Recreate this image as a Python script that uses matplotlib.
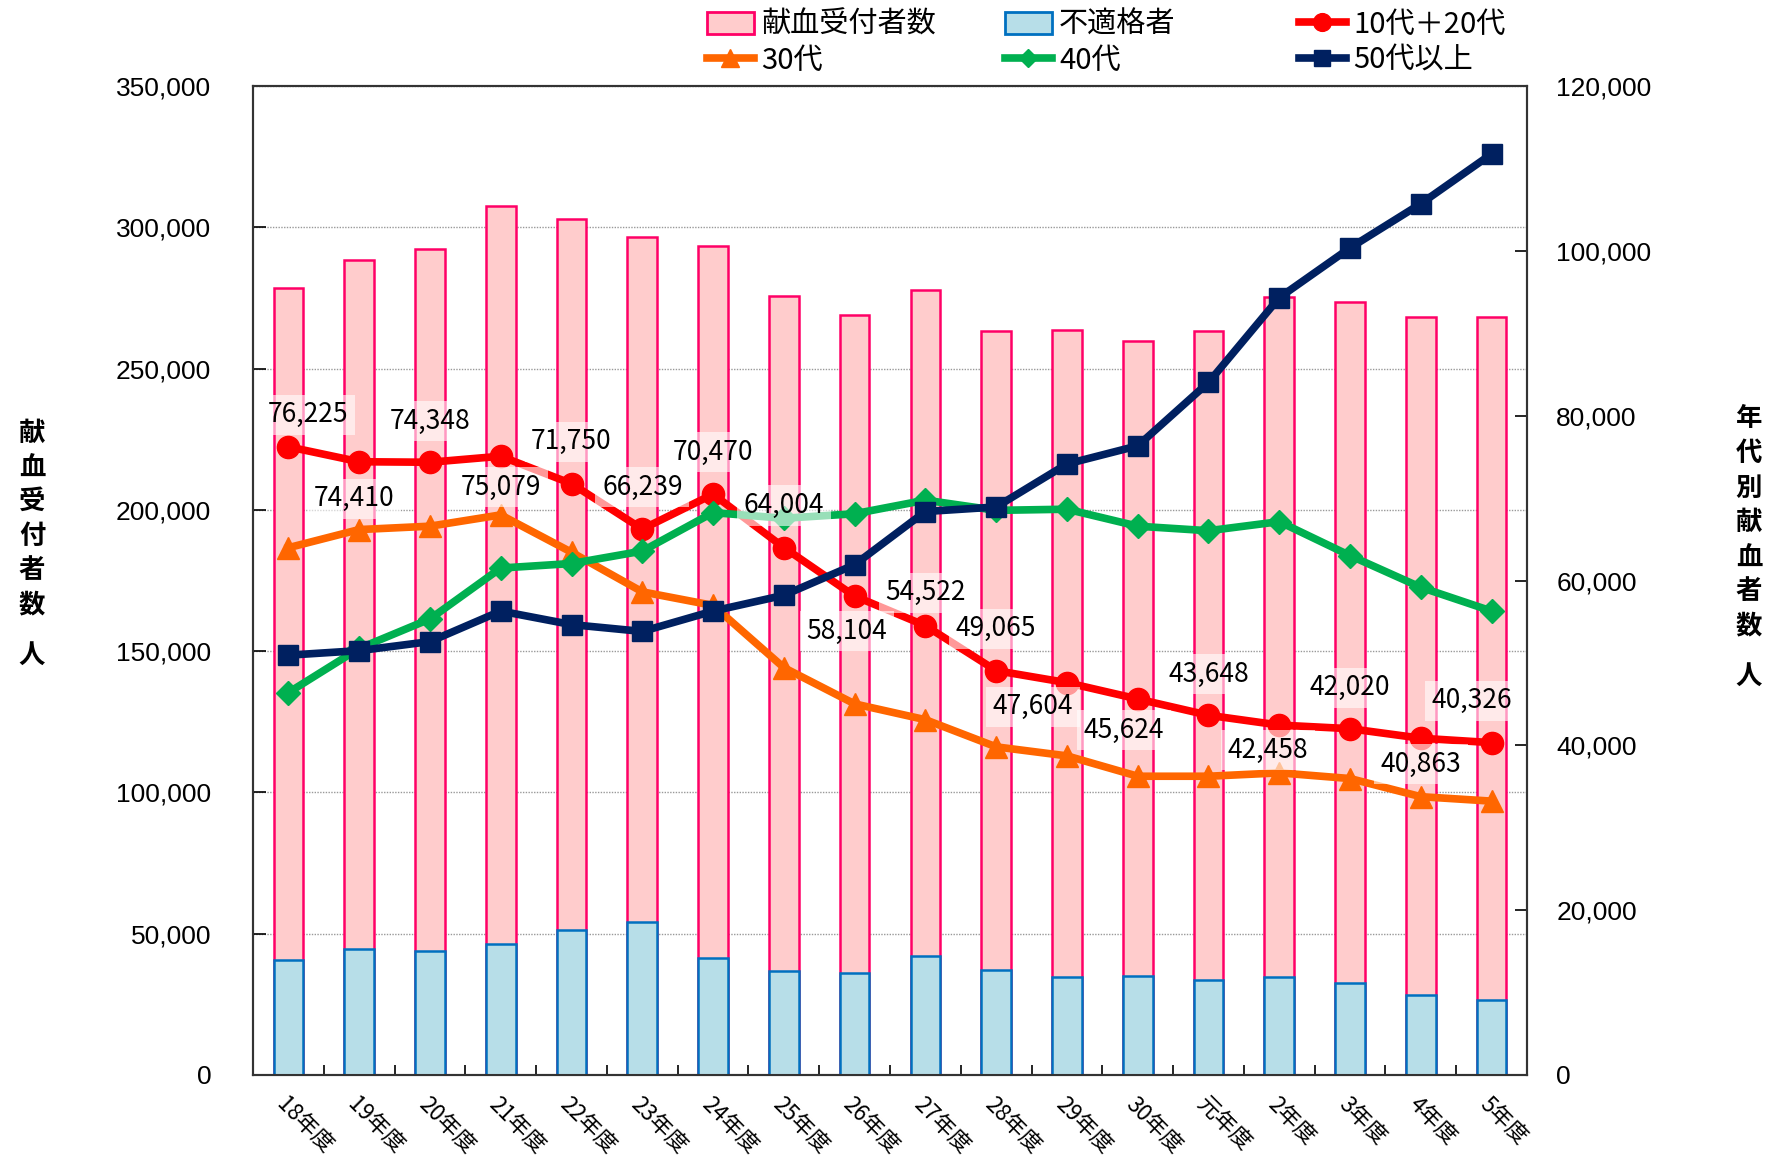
import matplotlib
matplotlib.use("Agg")
import matplotlib.pyplot as plt
from matplotlib.lines import Line2D
from matplotlib.patches import Patch
from matplotlib.ticker import FuncFormatter, MultipleLocator, FixedLocator

plt.rcParams['font.family'] = ['Noto Sans CJK JP', 'DejaVu Sans']

# ---------------- data ----------------
years = ["18年度", "19年度", "20年度", "21年度", "22年度", "23年度", "24年度", "25年度",
         "26年度", "27年度", "28年度", "29年度", "30年度", "元年度", "2年度", "3年度",
         "4年度", "5年度"]

reception = [278340, 288250, 292140, 307360, 302860, 296390, 293310, 275760, 269040,
             277630, 263120, 263590, 259820, 263470, 275160, 273640, 268080, 268190]
ineligible = [40660, 44690, 43740, 46460, 51270, 54240, 41370, 36660, 35950,
              41970, 37120, 34540, 34890, 33470, 34540, 32520, 28410, 26640]

age_10_20 = [76225, 74410, 74348, 75079, 71750, 66239, 70470, 64004, 58104,
             54522, 49065, 47604, 45624, 43648, 42458, 42020, 40863, 40326]
age_30 = [63980, 66180, 66590, 67960, 63430, 58625, 56980, 49430, 45030,
          43110, 39815, 38720, 36250, 36250, 36660, 35970, 33770, 33230]
age_40 = [46400, 51760, 55330, 61510, 62060, 63570, 68240, 67550, 68100,
          69750, 68510, 68650, 66590, 66040, 67140, 63020, 59170, 56290]
age_50 = [50940, 51490, 52590, 56290, 54650, 53820, 56290, 58210, 61920,
          68370, 68920, 74140, 76340, 84030, 94320, 100360, 105720, 111760]

label_offsets = [(20, 32), (-5, -37), (0, 41), (0, -31), (0, 42), (0, 42), (0, 42), (0, 42),
                 (-8, -35), (0, 33), (0, 42), (-34, -24), (-14, -31), (0, 41), (-11, -25),
                 (0, 41), (0, -26), (-20, 42)]

# ---------------- figure ----------------
W, H = 1775, 1160
fig = plt.figure(figsize=(W / 100, H / 100), dpi=100)
L, R, T, B = 253, 1527, 86, 1075
ax = fig.add_axes([L / W, 1 - B / H, (R - L) / W, (B - T) / H])
ax2 = ax.twinx()

x = list(range(len(years)))
bw = 0.42
ax.bar(x, reception, width=bw, color="#FFCCCC", edgecolor="#FF0066", linewidth=1.8,
       zorder=2, label="献血受付者数")
ax.bar(x, ineligible, width=bw, color="#B7DEE8", edgecolor="#0070C0", linewidth=1.8,
       zorder=3, label="不適格者")

ax.set_xlim(-0.5, len(years) - 0.5)
ax.set_ylim(0, 350000)
ax.yaxis.set_major_locator(MultipleLocator(50000))
fmt = FuncFormatter(lambda v, p: f"{int(v):,}")
ax.yaxis.set_major_formatter(fmt)
ax.set_axisbelow(True)
ax.grid(axis='y', color='#999999', linestyle=(0, (1, 1)), linewidth=1.0)

ax2.set_ylim(0, 120000)
ax2.yaxis.set_major_locator(MultipleLocator(20000))
ax2.yaxis.set_major_formatter(fmt)

lw = 5.5
l1, = ax2.plot(x, age_10_20, color="#FF0000", lw=lw, marker='o', ms=16, zorder=3)
l2, = ax2.plot(x, age_30, color="#FF6600", lw=lw, marker='^', ms=16, zorder=4)
l3, = ax2.plot(x, age_40, color="#00B050", lw=lw, marker='D', ms=12, zorder=5)
l4, = ax2.plot(x, age_50, color="#002060", lw=lw, marker='s', ms=15, zorder=6)

for xi, v, (dx, dy) in zip(x, age_10_20, label_offsets):
    ax2.annotate(f"{v:,}", (xi, v), xytext=(dx, dy), textcoords='offset pixels',
                 ha='center', va='center', fontsize=19, color='black', zorder=10,
                 bbox=dict(boxstyle='square,pad=0.25', fc='white', ec='none', alpha=0.6))

# ticks
for a in (ax, ax2):
    for s in a.spines.values():
        s.set_color('#333333')
        s.set_linewidth(1.5)
ax.tick_params(axis='y', direction='in', length=9, width=1.2, pad=30)
ax2.tick_params(axis='y', direction='in', length=9, width=1.2, pad=21)
for lab in ax.get_yticklabels() + ax2.get_yticklabels():
    lab.set_fontfamily(['Liberation Sans', 'DejaVu Sans'])
    lab.set_fontsize(19)

ax.set_xticks(x)
ax.set_xticklabels(years, rotation=-45, ha='left', va='top', rotation_mode='anchor',
                   fontsize=16)
ax.tick_params(axis='x', which='major', length=0, pad=13)
ax.xaxis.set_minor_locator(FixedLocator([i + 0.5 for i in range(len(years) - 1)]))
ax.tick_params(axis='x', which='minor', direction='in', length=7, width=1.2)

# axis titles (vertical stacked characters)
left_chars = list("献血受付者数")
for i, ch in enumerate(left_chars):
    fig.text(32 / W, 1 - (433 + 34.4 * i) / H, ch, ha='center', va='center',
             fontsize=19, fontweight='bold')
fig.text(32 / W, 1 - 655 / H, "人", ha='center', va='center', fontsize=19, fontweight='bold')

right_chars = list("年代別献血者数")
for i, ch in enumerate(right_chars):
    fig.text(1749 / W, 1 - (419 + 34.5 * i) / H, ch, ha='center', va='center',
             fontsize=19, fontweight='bold')
fig.text(1749 / W, 1 - 676 / H, "人", ha='center', va='center', fontsize=19, fontweight='bold')

# legend: three columns, each placed like the reference
def lh(line):
    return Line2D([], [], color=line.get_color(), lw=lw, marker=line.get_marker(),
                  ms=line.get_markersize() * 0.8)

p1 = Patch(facecolor="#FFCCCC", edgecolor="#FF0066", linewidth=2)
p2 = Patch(facecolor="#B7DEE8", edgecolor="#0070C0", linewidth=2)
cols = [
    ([p1, lh(l2)], ["献血受付者数", "30代"], 707),
    ([p2, lh(l3)], ["不適格者", "40代"], 1005),
    ([lh(l1), lh(l4)], ["10代＋20代", "50代以上"], 1299),
]
for hs, ls, xpix in cols:
    fig.legend(hs, ls, loc='upper left', bbox_to_anchor=(xpix / W, 1 - 10 / H),
               frameon=False, fontsize=21, handlelength=1.6, handletextpad=0.25,
               labelspacing=0.2, borderpad=0, borderaxespad=0, handleheight=0.8)

fig.savefig("out.png", dpi=100)
